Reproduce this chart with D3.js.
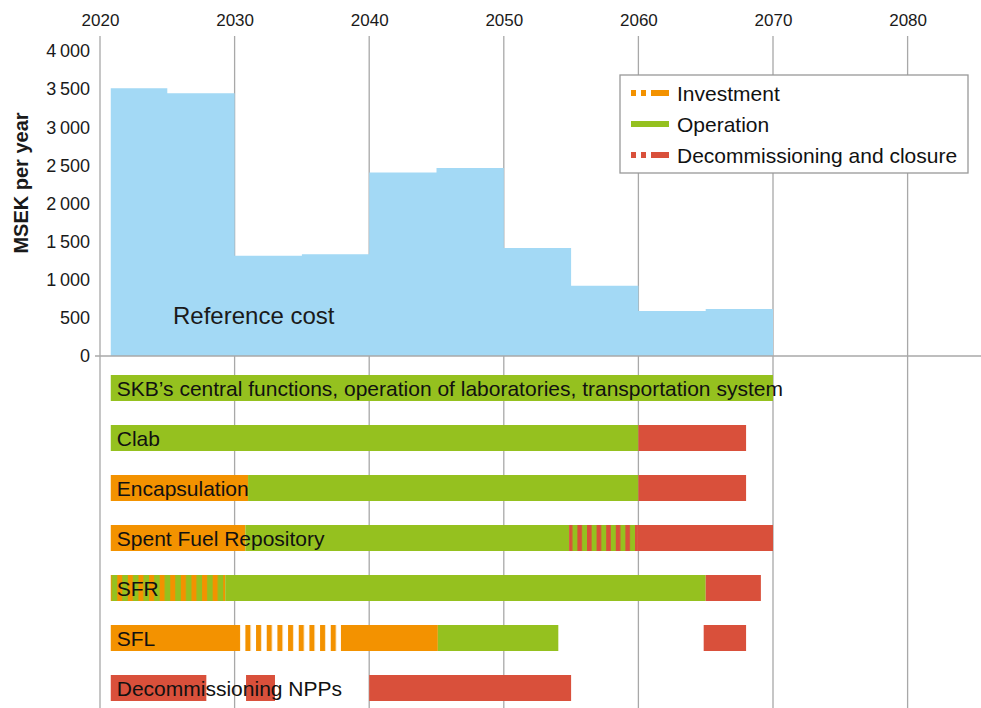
<!DOCTYPE html>
<html>
<head>
<meta charset="utf-8">
<script src="https://cdn.jsdelivr.net/npm/d3@7"></script>
<style>
  html, body { margin: 0; padding: 0; background: #fff; }
  svg { display: block; font-family: "Liberation Sans", Arial, sans-serif; }
</style>
</head>
<body>
<svg id="chart" width="981" height="708"></svg>
<script>
// ---------- DATA ----------
const gridYears = [2020, 2030, 2040, 2050, 2060, 2070, 2080];
const yTicks = [0, 500, 1000, 1500, 2000, 2500, 3000, 3500, 4000];

// reference cost: step function, period start years and values (MSEK per year)
const periodStarts = [2020.8, 2025, 2030, 2035, 2040, 2045, 2050, 2055, 2060, 2065];
const periodEnds   = [2025, 2030, 2035, 2040, 2045, 2050, 2055, 2060, 2065, 2070];
const periodCosts  = [3510, 3445, 1315, 1335, 2405, 2465, 1418, 920, 590, 615];

// Gantt rows
const rowLabels = [
  "SKB\u2019s central functions, operation of laboratories, transportation system",
  "Clab",
  "Encapsulation",
  "Spent Fuel Repository",
  "SFR",
  "SFL",
  "Decommissioning NPPs"
];

// segments: rowIndex, startYear, endYear, kind
// kinds: inv, op, dec, invOp (striped investment over operation), invGap (striped investment), decOp (striped decommissioning over operation)
const segRow   = [0, 1, 1, 2, 2, 2, 3, 3, 3, 3, 4, 4, 4, 5, 5, 5, 5, 5, 6, 6, 6];
const segStart = [2020.8, 2020.8, 2060, 2020.8, 2031, 2060, 2020.8, 2030.8, 2054.85, 2059.9, 2020.8, 2029.3, 2065, 2020.8, 2030.4, 2037.9, 2045.1, 2064.85, 2020.8, 2030.85, 2040];
const segEnd   = [2070, 2060, 2068, 2031, 2060, 2068, 2030.8, 2054.85, 2059.9, 2070, 2029.3, 2065, 2069.1, 2030.4, 2037.9, 2045.1, 2054.05, 2068, 2027.9, 2033, 2055];
const segKind  = ["op", "op", "dec", "inv", "op", "dec", "inv", "op", "decOp", "dec", "invOp", "op", "dec", "inv", "invGap", "inv", "op", "dec", "dec", "dec", "dec"];

const legendLabels = ["Investment", "Operation", "Decommissioning and closure"];
const legendKinds  = ["inv", "op", "dec"];

// ---------- STYLE ----------
const colors = { inv: "#f39200", op: "#95c11f", dec: "#d9503b", blue: "#a3d9f5", grid: "#a8a8a8" };
const FONT = "Liberation Sans, Arial, sans-serif";

const svg = d3.select("#chart");
const x = d3.scaleLinear().domain([2020, 2070]).range([100, 773]);
const y = d3.scaleLinear().domain([0, 4000]).range([356, 51]);
const rowY = d3.scaleBand().domain(d3.range(rowLabels.length)).range([363, 713]).paddingInner(0.48).paddingOuter(0.24);

// patterns
const defs = svg.append("defs");
function stripePattern(id, base, stripe, period, stripeW, offset) {
  const p = defs.append("pattern").attr("id", id).attr("patternUnits", "userSpaceOnUse")
    .attr("width", period).attr("height", 10).attr("x", offset);
  p.append("rect").attr("width", period).attr("height", 10).attr("fill", base);
  p.append("rect").attr("width", stripeW).attr("height", 10).attr("fill", stripe);
  return p;
}

// gridlines
svg.append("g").selectAll("line").data(gridYears).join("line")
  .attr("x1", d => x(d)).attr("x2", d => x(d))
  .attr("y1", 36).attr("y2", 708)
  .attr("stroke", colors.grid).attr("stroke-width", 1.3);

// top axis
const topAxis = d3.axisTop(x).tickValues(gridYears).tickSize(0).tickPadding(10).tickFormat(d3.format("d"));
svg.append("g").attr("transform", "translate(0,36)").call(topAxis)
  .call(g => g.select(".domain").remove())
  .call(g => g.selectAll("text").attr("font-size", 17).attr("fill", "#1a1a1a").attr("font-family", FONT));

// step area
const steps = periodStarts.map((s, i) => ({ yr: s, v: periodCosts[i] }));
steps.push({ yr: periodEnds[periodEnds.length - 1], v: periodCosts[periodCosts.length - 1] });
const area = d3.area().x(d => x(d.yr)).y0(y(0)).y1(d => y(d.v)).curve(d3.curveStepAfter);
svg.append("path").datum(steps).attr("d", area).attr("fill", colors.blue);

// x baseline
svg.append("line").attr("x1", 95).attr("x2", 981).attr("y1", y(0)).attr("y2", y(0))
  .attr("stroke", colors.grid).attr("stroke-width", 1.5);

// y axis
const loc = d3.formatLocale({ decimal: ".", thousands: "\u2009", grouping: [3], currency: ["", ""] });
const yAxis = d3.axisLeft(y).tickValues(yTicks).tickSize(0).tickPadding(10).tickFormat(loc.format(",d"));
svg.append("g").attr("transform", "translate(100,0)").call(yAxis)
  .call(g => g.select(".domain").remove())
  .call(g => g.selectAll("text").attr("font-size", 18).attr("fill", "#1a1a1a").attr("font-family", FONT));

svg.append("text").attr("transform", "translate(28,183) rotate(-90)")
  .attr("text-anchor", "middle").attr("font-size", 20).attr("font-weight", "bold")
  .attr("fill", "#1a1a1a").text("MSEK per year");

svg.append("text").attr("x", 173).attr("y", 324).attr("font-size", 24).attr("fill", "#1a1a1a")
  .text("Reference cost");

// gantt
const segs = segRow.map((r, i) => ({ r, s: segStart[i], e: segEnd[i], k: segKind[i], i }));
segs.forEach(d => {
  let fill = colors[d.k];
  if (d.k === "invOp") { stripePattern("p" + d.i, colors.op, colors.inv, 10.6, 5, x(d.s) + 6.5); fill = "url(#p" + d.i + ")"; }
  if (d.k === "invGap") { stripePattern("p" + d.i, "#ffffff", colors.inv, 10.67, 5.1, x(d.s) + 5.4); fill = "url(#p" + d.i + ")"; }
  if (d.k === "decOp") { stripePattern("p" + d.i, colors.op, colors.dec, 9.6, 4.6, x(d.s) - 1.3); fill = "url(#p" + d.i + ")"; }
  d.fill = fill;
});
svg.append("g").selectAll("rect").data(segs).join("rect")
  .attr("x", d => x(d.s)).attr("width", d => x(d.e) - x(d.s))
  .attr("y", d => rowY(d.r)).attr("height", rowY.bandwidth())
  .attr("fill", d => d.fill);

svg.append("g").selectAll("text").data(rowLabels).join("text")
  .attr("x", x(2020.8) + 6).attr("y", (d, i) => rowY(i) + rowY.bandwidth() / 2 + 7.5)
  .attr("font-size", 21).attr("fill", "#111").text(d => d);

// legend
const lg = svg.append("g");
lg.append("rect").attr("x", 620).attr("y", 75).attr("width", 348).attr("height", 98)
  .attr("fill", "#fff").attr("stroke", "#999").attr("stroke-width", 1.3);
const ly = d3.scalePoint().domain(legendKinds).range([93, 155]);
lg.selectAll("line").data(legendKinds).join("line")
  .attr("x1", 631).attr("x2", 669).attr("y1", d => ly(d)).attr("y2", d => ly(d))
  .attr("stroke", d => colors[d]).attr("stroke-width", 6)
  .attr("stroke-dasharray", d => d === "op" ? null : "5,5,5,5,18");
lg.selectAll("text").data(legendLabels).join("text")
  .attr("x", 677).attr("y", (d, i) => ly(legendKinds[i]) + 7.5)
  .attr("font-size", 21).attr("fill", "#111").text(d => d);
</script>
</body>
</html>
